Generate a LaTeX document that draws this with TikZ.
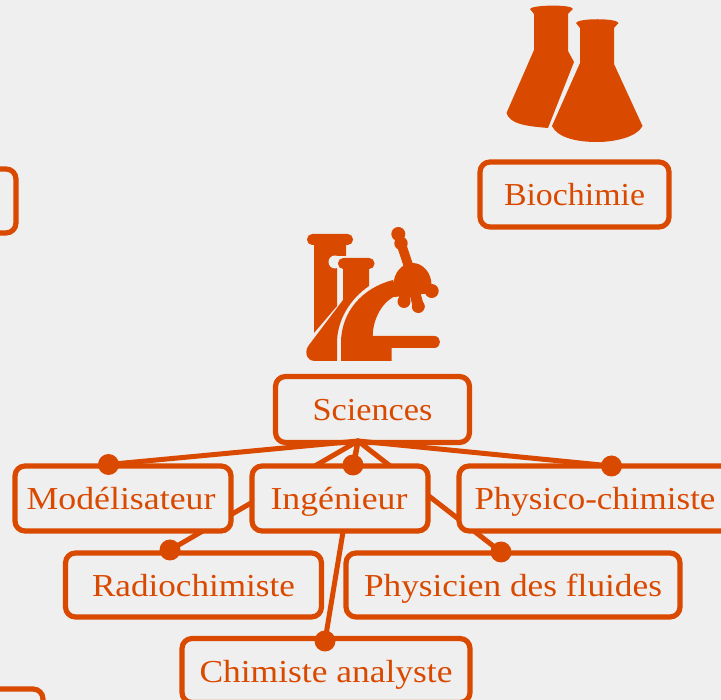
\documentclass[tikz,border=0pt]{standalone}
\usepackage{graphicx}
\usepackage{fontspec}
\setmainfont{Liberation Serif}
\definecolor{rust}{RGB}{218,73,0}
\definecolor{paper}{RGB}{239,239,239}
\newcommand{\lab}[2]{\resizebox{#1pt}{\height}{#2}}
\tikzset{
  box/.style={draw=rust,fill=paper,line width=5.2pt,rounded corners=10pt,inner sep=0pt,outer sep=0pt,
    text=rust,font=\fontsize{32}{36}\selectfont,text height=23pt,text depth=0pt,align=center},
  link/.style={draw=rust,line width=5pt,line cap=round},
  pin/.style={circle,fill=rust,minimum size=21pt,inner sep=0pt,outer sep=0pt},
  icon/.style={fill=rust,draw=none},
  gap/.style={fill=paper,draw=none}
}
\begin{document}
\begin{tikzpicture}[x=1pt,y=-1pt]
\useasboundingbox (0,0) rectangle (721,700);
\fill[paper] (0,0) rectangle (721,700);
% flasks
\fill[icon] (530,9) .. controls (531,5) and (572,4) .. (573,9) -- (568,14) -- (568,51) -- (574,62)
  -- (548,128) .. controls (525,126) and (510,124) .. (506.5,113) -- (534,50) -- (534,14) -- cycle;
\fill[icon] (576,23) .. controls (578,18) and (617,18) .. (618.5,23) -- (614,28) -- (614,64) -- (642.5,126)
  .. controls (637,137) and (615,142) .. (597,142) .. controls (575,142) and (557,137) .. (552,126)
  -- (580,63) -- (580,28) -- cycle;
% microscope group
\fill[icon,rounded corners=5.3pt] (307,234) rectangle (353,245);
\fill[icon] (314,244) -- (346,244) -- (346,256) -- (337,256) -- (337,306) -- (314,333) -- cycle;
\fill[gap] (335,262) circle (6.5);
\fill[icon,rounded corners=5.3pt] (338,258) rectangle (374.5,269);
\fill[icon] (343,268) -- (369,268) -- (369,286) .. controls (350,299) and (337,320) .. (337,343) -- (337,361)
  -- (315,361) .. controls (306,361) and (304,351) .. (309,345) -- (343,300) -- cycle;
% arm
\fill[icon] (341,361) -- (341,343) .. controls (341,312) and (362,288) .. (393,280) -- (398,295)
  .. controls (383,300) and (373,318) .. (372.7,336) -- (434,336) .. controls (442,336) and (442,348) .. (434,348)
  -- (391.7,348) -- (391.7,361) -- cycle;
% head
\fill[icon] (393.5,285) arc (180:360:19 and 22) -- (432,293) -- (394,297) -- cycle;
\fill[icon] (398.3,234) circle (7);
\fill[icon] (401,243.3) circle (6.7);
\draw[rust,line width=9.5pt] (401,243.3) -- (410.5,272);
\draw[rust,line width=10pt] (420,284) -- (431.7,291);
\fill[icon] (431.7,291) circle (7);
\draw[rust,line width=11pt] (404,290) -- (404,301);
\fill[icon] (404,301.5) circle (6.5);
\draw[rust,line width=11pt] (414,290) -- (418.3,306);
\fill[icon] (418.3,306.5) circle (6.5);
% off-page boxes and top boxes
\node[box,minimum width=192pt,minimum height=64pt] (leftbox) at (-80,201) {};
\node[box,minimum width=192pt,minimum height=64pt] (lowbox) at (-53,721) {};
\node[box,minimum width=189pt,minimum height=65pt] (bio) at (574.5,194.5) {\lab{141}{Biochimie}};
\node[box,minimum width=194pt,minimum height=66pt] (sci) at (372.5,409.5) {\lab{120}{Sciences}};
\coordinate (hub) at (358,441);
% connectors (hidden behind boxes)
\coordinate (pm) at (108.5,464.5);
\coordinate (pi) at (353,465);
\coordinate (pp) at (611.5,466);
\coordinate (pr) at (170,550);
\coordinate (pf) at (501,552);
\coordinate (pc) at (325,641);
\foreach \e in {pm,pi,pp,pr,pf,pc} \draw[link] (hub) -- (\e);
\node[box,minimum width=216pt,minimum height=65pt] (mod) at (123,498.5) {\lab{189}{Modélisateur}\hspace*{4pt}};
\node[box,minimum width=176pt,minimum height=65pt] (ing) at (340,498.5) {\lab{137}{Ingénieur}\hspace*{2pt}};
\node[box,minimum width=272pt,minimum height=65pt] (phc) at (595,498.5) {\lab{241}{Physico-chimiste}};
\node[box,minimum width=256pt,minimum height=64pt] (rad) at (193.5,585) {\lab{203}{Radiochimiste}};
\node[box,minimum width=334pt,minimum height=64pt] (phf) at (513,585) {\lab{298}{Physicien des fluides}};
\node[box,minimum width=288pt,minimum height=64pt] (chi) at (326,670.5) {\lab{253}{Chimiste analyste}};
\node[pin] (dm) at (pm) {};
\node[pin] (di) at (pi) {};
\node[pin] (dp) at (pp) {};
\node[pin] (dr) at (pr) {};
\node[pin] (df) at (pf) {};
\node[pin] (dc) at (pc) {};
\end{tikzpicture}
\end{document}
